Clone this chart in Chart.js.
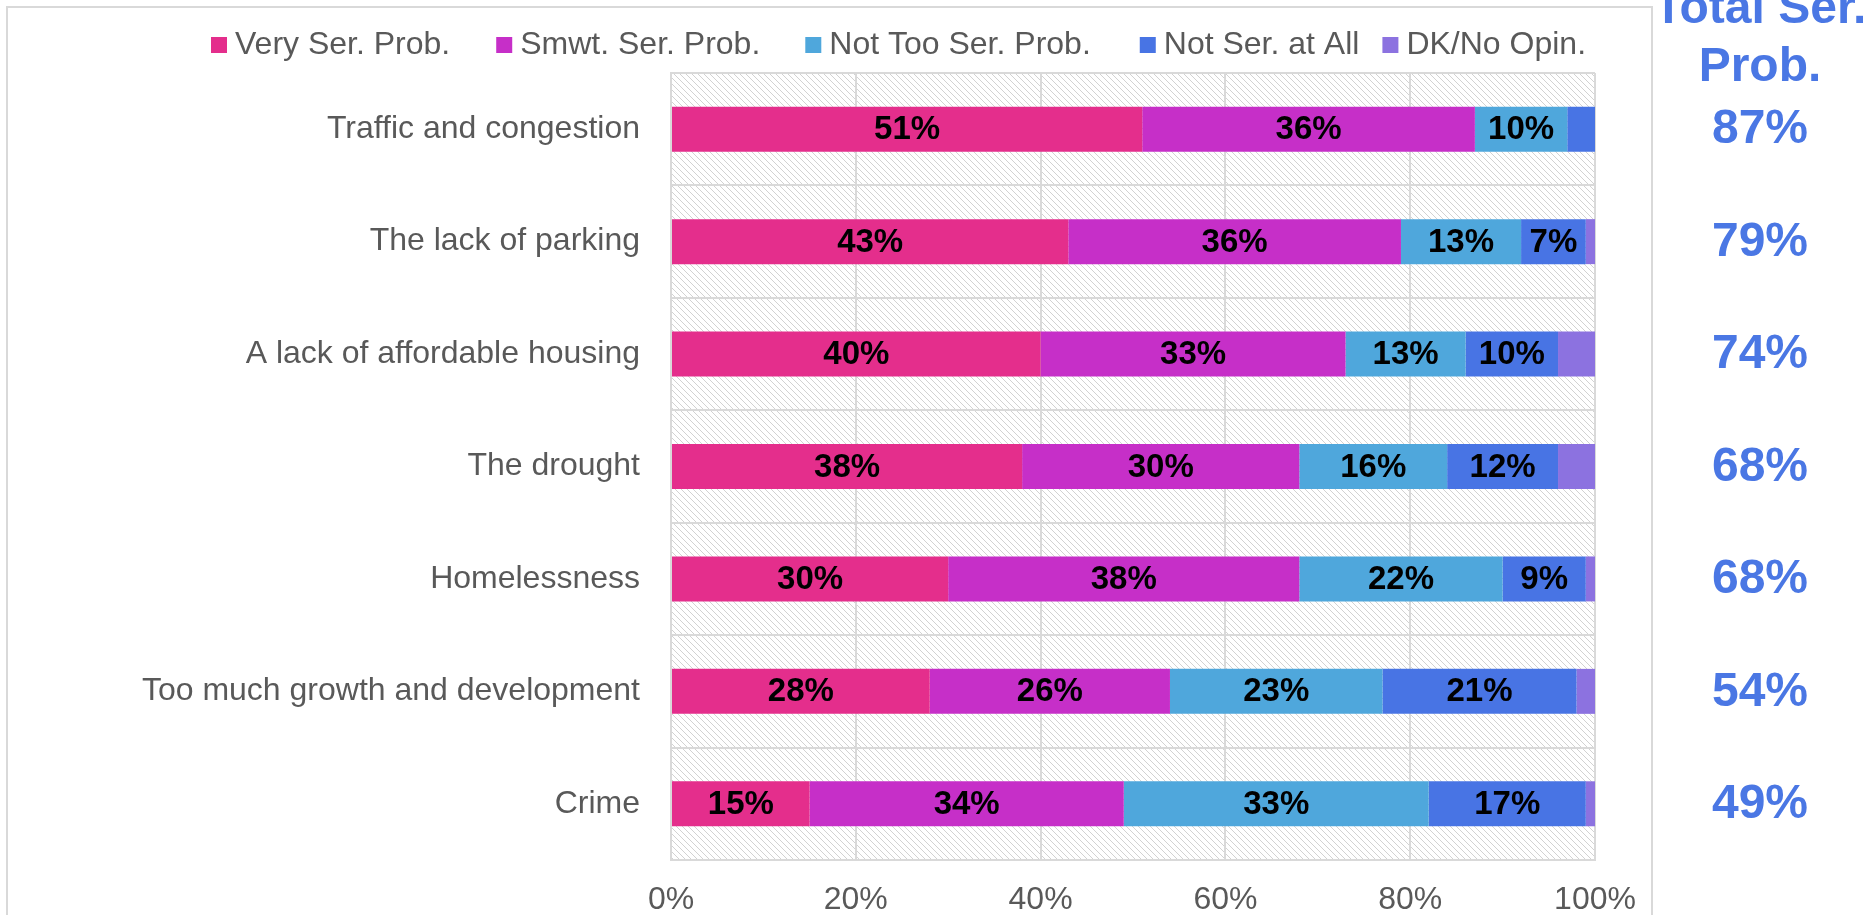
<!DOCTYPE html>
<html>
<head>
<meta charset="utf-8">
<script src="https://cdn.jsdelivr.net/npm/chart.js@4.4.1/dist/chart.umd.min.js"></script>
<style>
  html, body { margin: 0; padding: 0; background: #fff; }
  #wrap { width: 1868px; height: 915px; position: relative; }
</style>
</head>
<body>
<div id="wrap"><canvas id="chart" width="1868" height="915"></canvas></div>
<script>
// Données
const categories = ['Traffic and congestion', 'The lack of parking', 'A lack of affordable housing',
  'The drought', 'Homelessness', 'Too much growth and development', 'Crime'];
const seriesNames = ['Very Ser. Prob.', 'Smwt. Ser. Prob.', 'Not Too Ser. Prob.', 'Not Ser. at All', 'DK/No Opin.'];
const veryProb = [51, 43, 40, 38, 30, 28, 15];
const smwtProb = [36, 36, 33, 30, 38, 26, 34];
const notTooProb = [10, 13, 13, 16, 22, 23, 33];
const notAtAll = [3, 7, 10, 12, 9, 21, 17];
const dkOpin = [0, 1, 4, 4, 1, 2, 1];
const totals = [87, 79, 74, 68, 68, 54, 49];
const xTicks = [0, 20, 40, 60, 80, 100];

const colors = ['#E42E8C', '#C62FC8', '#4FA7DC', '#4874E4', '#8C72E0'];
const totalColor = '#4A77E4';
const grey = '#595959';
const gridColor = '#D9D9D9';
const font = '"Liberation Sans", Arial, sans-serif';

// Motif hachuré du fond
function hatch() {
    const c = document.createElement('canvas');
    c.width = 6; c.height = 6;
    const g = c.getContext('2d');
    g.fillStyle = '#fff';
    g.fillRect(0, 0, 6, 6);
    g.strokeStyle = '#D2D2D2';
    g.lineWidth = 1;
    g.beginPath();
    g.moveTo(-1, -1); g.lineTo(7, 7);
    g.moveTo(-1, 5); g.lineTo(1, 7);
    g.moveTo(5, -1); g.lineTo(7, 1);
    g.stroke();
    return c;
}

const backgroundPlugin = {
    id: 'fond',
    beforeDraw(chart) {
        const { ctx, chartArea: a } = chart;
        ctx.save();
        ctx.fillStyle = '#fff';
        ctx.fillRect(0, 0, chart.width, chart.height);
        ctx.strokeStyle = gridColor;
        ctx.lineWidth = 2;
        ctx.strokeRect(7, 7, 1645, 960);
        ctx.fillStyle = ctx.createPattern(hatch(), 'repeat');
        ctx.fillRect(a.left, a.top, a.right - a.left, a.bottom - a.top);
        ctx.restore();
    }
};

// Légende dessinée à la main pour garder les écarts
const legendPlugin = {
    id: 'legende',
    afterDraw(chart) {
        const ctx = chart.ctx;
        const gaps = [46, 45, 49, 23];
        ctx.save();
        ctx.font = '32px ' + font;
        ctx.textBaseline = 'middle';
        let x = 211;
        const y = 45;
        chart.data.datasets.forEach((ds, i) => {
            ctx.fillStyle = ds.backgroundColor;
            ctx.fillRect(x, y - 8, 16, 16);
            ctx.fillStyle = grey;
            ctx.fillText(ds.label, x + 24, y);
            x += 24 + ctx.measureText(ds.label).width + (gaps[i] || 0);
        });
        ctx.restore();
    }
};

// Étiquettes des barres et colonne des totaux
const labelsPlugin = {
    id: 'etiquettes',
    afterDatasetsDraw(chart) {
        const ctx = chart.ctx;
        ctx.save();
        ctx.textAlign = 'center';
        ctx.textBaseline = 'middle';
        ctx.font = 'bold 33px ' + font;
        ctx.fillStyle = '#000';
        chart.data.datasets.forEach((ds, i) => {
            chart.getDatasetMeta(i).data.forEach((bar, j) => {
                if (ds.data[j] < 5) return;
                const p = bar.getCenterPoint();
                ctx.fillText(ds.data[j] + '%', p.x, p.y + 1);
            });
        });
        const yScale = chart.scales.y;
        ctx.fillStyle = totalColor;
        ctx.font = 'bold 48px ' + font;
        totals.forEach((t, i) => {
            ctx.fillText(t + '%', 1760, yScale.getPixelForValue(i) + 1);
        });
        ctx.textBaseline = 'alphabetic';
        ctx.fillText('Total Ser.', 1760, 23);
        ctx.fillText('Prob.', 1760, 81);
        ctx.restore();
    }
};

const series = [veryProb, smwtProb, notTooProb, notAtAll, dkOpin];

new Chart(document.getElementById('chart'), {
    type: 'bar',
    data: {
        labels: categories,
        datasets: series.map((d, i) => ({
            label: seriesNames[i],
            data: d,
            backgroundColor: colors[i],
            borderWidth: 0,
            categoryPercentage: 0.8,
            barPercentage: 0.5
        }))
    },
    options: {
        indexAxis: 'y',
        responsive: false,
        animation: false,
        layout: { padding: { left: 0, right: 273, top: 73, bottom: 0 } },
        plugins: { legend: { display: false }, tooltip: { enabled: false } },
        scales: {
            x: {
                stacked: true,
                min: 0,
                max: 100,
                afterBuildTicks: s => { s.ticks = xTicks.map(v => ({ value: v })); },
                afterFit: s => { s.height = 55; s.paddingLeft = 0; s.paddingRight = 0; },
                ticks: { color: grey, font: { family: font, size: 32 }, padding: 21, callback: v => v + '%' },
                grid: { color: gridColor, lineWidth: 2, drawTicks: false },
                border: { color: gridColor, width: 2 }
            },
            y: {
                stacked: true,
                afterFit: s => { s.width = 671; },
                ticks: { color: grey, font: { family: font, size: 32 }, padding: 31 },
                grid: { color: gridColor, lineWidth: 2, offset: true, drawTicks: false },
                border: { color: gridColor, width: 2 }
            }
        }
    },
    plugins: [backgroundPlugin, legendPlugin, labelsPlugin]
});
</script>
</body>
</html>
